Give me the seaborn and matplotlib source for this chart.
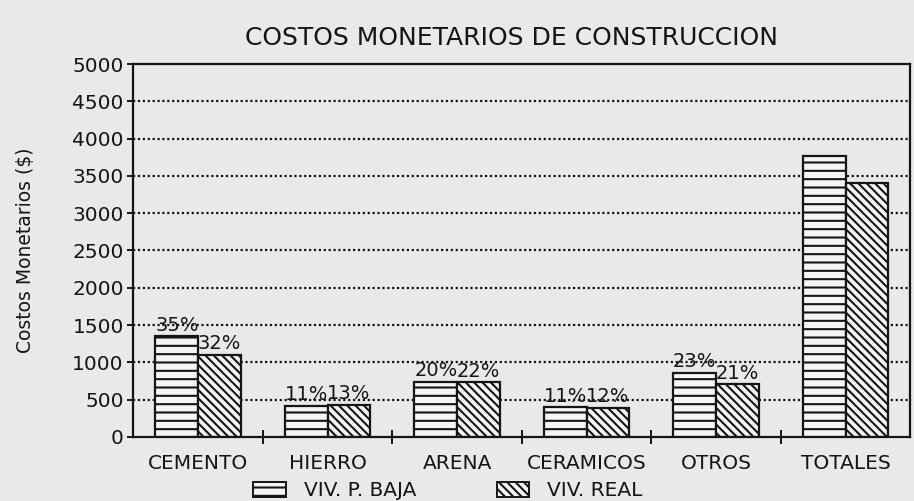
import pandas as pd
import seaborn as sns
import matplotlib.pyplot as plt
from matplotlib.patches import Patch

# Datos
categorias = ['CEMENTO', 'HIERRO', 'ARENA', 'CERAMICOS', 'OTROS', 'TOTALES']
viv_p_baja = [1350, 420, 740, 400, 860, 3770]
viv_real = [1100, 430, 730, 390, 710, 3400]
pct_p_baja = ['35%', '11%', '20%', '11%', '23%', '']
pct_real = ['32%', '13%', '22%', '12%', '21%', '']
series = ['VIV. P. BAJA', 'VIV. REAL']

df = pd.DataFrame({
    'categoria': categorias * 2,
    'costo': viv_p_baja + viv_real,
    'vivienda': [series[0]] * len(categorias) + [series[1]] * len(categorias),
})

papel = '#e9e9e9'
relleno = '#f5f5f5'
tinta = '#151515'

sns.set_style('white')
plt.rcParams['font.family'] = ['DejaVu Sans']
plt.rcParams['hatch.linewidth'] = 1.5
plt.rcParams['hatch.color'] = tinta

fig = plt.figure(figsize=(9.14, 5.01), dpi=100, facecolor=papel)
ax = fig.add_axes([0.146, 0.128, 0.85, 0.744], facecolor=papel)

sns.barplot(data=df, x='categoria', y='costo', hue='vivienda', width=0.66,
            color='white', ax=ax, legend=False, errorbar=None)

tramas = ['--', '\\\\\\\\']
for cont, trama, pct in zip(ax.containers, tramas, [pct_p_baja, pct_real]):
    for barra in cont:
        barra.set_facecolor(relleno)
        barra.set_edgecolor(tinta)
        barra.set_hatch(trama)
        barra.set_linewidth(1.6)
    ax.bar_label(cont, labels=pct, padding=1, fontsize=14, color=tinta)

# Ejes y grilla punteada
ax.set_ylim(0, 5000)
ax.set_xlim(-0.5, 5.5)
ax.set_yticks(range(0, 5001, 500))
ax.set_axisbelow(True)
for v in range(500, 5000, 500):
    ax.axhline(v, color=tinta, linestyle=(0, (1, 1.2)), linewidth=1.6, zorder=0)

for lado in ['left', 'bottom', 'top', 'right']:
    ax.spines[lado].set_visible(True)
    ax.spines[lado].set_color(tinta)
    ax.spines[lado].set_linewidth(1.6)

ax.tick_params(axis='y', direction='out', length=4, width=1.4, labelsize=14.5,
               colors=tinta, left=True, pad=3)
ax.tick_params(axis='x', which='major', length=0, labelsize=14.5, colors=tinta, pad=12)
ax.set_xticks([0.5, 1.5, 2.5, 3.5, 4.5], minor=True)
ax.tick_params(axis='x', which='minor', direction='inout', length=10, width=1.4,
               colors=tinta, bottom=True)

ax.set_xlabel('')
ax.set_ylabel('Costos Monetarios ($)', fontsize=13.5, color=tinta, labelpad=27)
fig.text(0.56, 0.925, 'COSTOS MONETARIOS DE CONSTRUCCION', ha='center', va='center',
         fontsize=18, color=tinta)

# Leyenda debajo del grafico
manejadores = [Patch(facecolor=relleno, edgecolor=tinta, hatch='--', linewidth=1.4),
               Patch(facecolor=relleno, edgecolor=tinta, hatch='\\\\\\\\', linewidth=1.4)]
fig.legend(manejadores, series, loc='lower center', bbox_to_anchor=(0.49, -0.035),
           ncol=2, frameon=False, fontsize=14.5, handlelength=1.6, handleheight=0.8,
           columnspacing=4.0, handletextpad=0.9, labelcolor=tinta)

fig.savefig('out.png', dpi=100, facecolor=papel)
